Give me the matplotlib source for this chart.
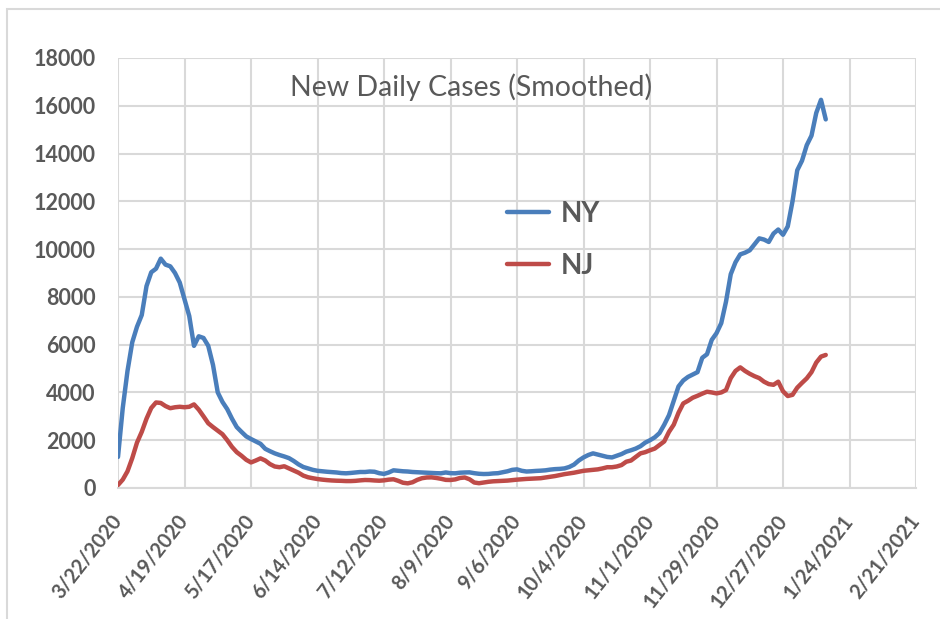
import matplotlib
matplotlib.use("Agg")
import matplotlib.pyplot as plt
from matplotlib.patches import Rectangle
import pandas as pd

# ---- data (values read every 2 days from 3/22/2020) ----
start_date = "2020-03-22"
step_days = 2

ny_cases = [
    1300, 3350, 4900, 6100, 6750, 7240, 8450, 9030, 9180, 9600,
    9350, 9280, 9000, 8600, 7900, 7200, 5950, 6350, 6280, 5950,
    5150, 4000, 3600, 3300, 2900, 2550, 2350, 2160, 2050, 1950,
    1850, 1640, 1540, 1450, 1380, 1320, 1250, 1130, 990, 880,
    820, 760, 720, 700, 680, 665, 650, 625, 615, 630,
    650, 670, 670, 690, 680, 620, 590, 650, 740, 720,
    700, 690, 670, 660, 650, 640, 630, 620, 615, 650,
    620, 615, 640, 650, 655, 620, 595, 585, 590, 610,
    620, 660, 700, 760, 780, 720, 690, 700, 715, 725,
    740, 770, 790, 800, 820, 880, 980, 1150, 1280, 1380,
    1450, 1400, 1350, 1300, 1280, 1350, 1420, 1520, 1580, 1650,
    1750, 1900, 2000, 2120, 2300, 2650, 3050, 3650, 4250, 4500,
    4650, 4750, 4850, 5450, 5600, 6200, 6480, 6900, 7800, 8950,
    9450, 9780, 9850, 9950, 10200, 10450, 10400, 10300, 10650, 10820,
    10600, 10950, 12000, 13300, 13700, 14350, 14750, 15700, 16250, 15430,
]

nj_cases = [
    125, 350, 700, 1250, 1900, 2350, 2900, 3350, 3580, 3560,
    3430, 3340, 3380, 3400, 3380, 3400, 3500, 3280, 3000, 2710,
    2550, 2400, 2250, 2000, 1720, 1500, 1350, 1180, 1070, 1150,
    1240, 1150, 1000, 900, 870, 910, 820, 730, 640, 520,
    450, 410, 375, 350, 330, 315, 305, 300, 290, 290,
    300, 320, 335, 330, 315, 305, 320, 350, 365, 300,
    220, 195, 240, 340, 410, 440, 445, 420, 385, 340,
    335, 360, 420, 440, 365, 230, 200, 230, 260, 280,
    290, 300, 310, 330, 350, 365, 380, 390, 400, 410,
    440, 470, 500, 540, 580, 610, 640, 680, 720, 740,
    760, 780, 820, 870, 870, 900, 960, 1100, 1150, 1300,
    1450, 1500, 1580, 1650, 1800, 1950, 2350, 2650, 3150, 3540,
    3650, 3780, 3860, 3950, 4030, 4000, 3960, 4000, 4100, 4600,
    4900, 5050, 4900, 4780, 4680, 4600, 4450, 4350, 4320, 4450,
    4050, 3850, 3900, 4200, 4400, 4590, 4850, 5250, 5500, 5570,
]

series_labels = ["NY", "NJ"]
title_text = "New Daily Cases (Smoothed)"
x_start = "2020-03-22"
x_end = "2021-02-21"
tick_step_days = 28
y_max = 18000
y_step = 2000

dates = pd.date_range(start_date, periods=len(ny_cases), freq=f"{step_days}D")
tick_dates = pd.date_range(x_start, x_end, freq=f"{tick_step_days}D")
tick_labels = [f"{d.month}/{d.day}/{d.year}" for d in tick_dates]

# ---- styling ----
BLUE = "#4A7EBB"
RED = "#BE4B48"
GRID = "#D9D9D9"
TXT = "#595959"
FONT = ["Lato", "DejaVu Sans"]
plt.rcParams["font.family"] = FONT

W, H = 940, 619
fig = plt.figure(figsize=(W / 100, H / 100), dpi=100)
ax = fig.add_axes([118 / W, 1 - 488 / H, (916 - 118) / W, (488 - 58) / H])

ax.plot(dates, ny_cases, color=BLUE, lw=3.2, label=series_labels[0],
        solid_capstyle="round", solid_joinstyle="round", zorder=3)
ax.plot(dates, nj_cases, color=RED, lw=3.2, label=series_labels[1],
        solid_capstyle="round", solid_joinstyle="round", zorder=3)

ax.set_xlim(pd.Timestamp(x_start), pd.Timestamp(x_end))
ax.set_ylim(0, y_max)
ax.set_xticks(tick_dates)
ax.set_xticklabels(tick_labels, rotation=52, ha="right", va="center",
                   rotation_mode="anchor", fontsize=14.5, fontweight="bold",
                   color=TXT)
yt = list(range(0, y_max + 1, y_step))
ax.set_yticks(yt)
ax.set_yticklabels([str(v) for v in yt], fontsize=15.5, fontweight="bold",
                   color=TXT)
ax.tick_params(axis="x", length=0, pad=21)
ax.tick_params(axis="y", length=0, pad=16)

ax.grid(True, color=GRID, lw=1.5, zorder=0)
ax.set_axisbelow(True)
for s in ["top", "right", "left"]:
    ax.spines[s].set_visible(False)
ax.spines["bottom"].set_color(GRID)
ax.spines["bottom"].set_linewidth(1.5)

ax.text(471 / W, 1 - 87 / H, title_text, transform=fig.transFigure,
        ha="center", va="center", fontsize=20.5, color=TXT)

leg = ax.legend(loc="center left", bbox_to_anchor=(507 / W, 1 - 240 / H),
                bbox_transform=fig.transFigure, frameon=False,
                prop={"family": FONT, "weight": "bold", "size": 20},
                handlelength=1.5, handletextpad=0.45, labelspacing=0.95,
                borderpad=0, borderaxespad=0)
for t in leg.get_texts():
    t.set_color(TXT)
for h in leg.get_lines():
    h.set_linewidth(3.2)

# chart-area border
fig.add_artist(Rectangle((7 / W, -0.1), 1.2, 1.1 - 9 / H,
                         transform=fig.transFigure, fill=False,
                         edgecolor=GRID, lw=1.5))

fig.savefig("out.png", dpi=100, facecolor="white")
